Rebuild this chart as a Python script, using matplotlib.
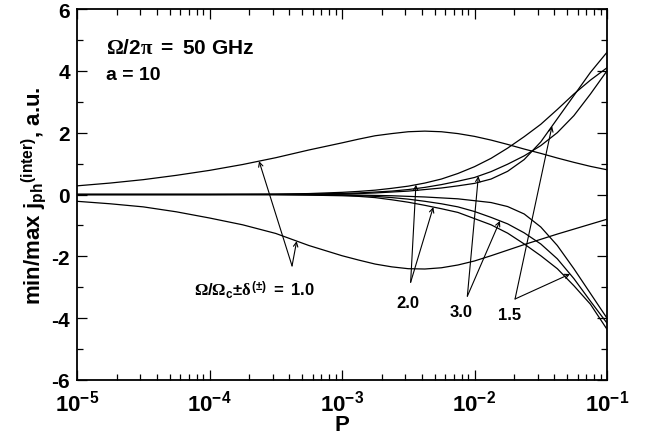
import numpy as np
import matplotlib
matplotlib.use("Agg")
import matplotlib.pyplot as plt
from matplotlib.ticker import FixedLocator, FixedFormatter, LogLocator, NullFormatter, MultipleLocator

plt.rcParams['font.family'] = ['Liberation Sans', 'DejaVu Sans']
plt.rcParams['font.weight'] = 'bold'
plt.rcParams['mathtext.fontset'] = 'custom'
plt.rcParams['mathtext.rm'] = 'Liberation Serif'
plt.rcParams['mathtext.it'] = 'Liberation Serif'
plt.rcParams['mathtext.bf'] = 'Liberation Sans:bold'
plt.rcParams['axes.unicode_minus'] = False

# log10(P) grid
logp = [-5, -4.75, -4.5, -4.25, -4, -3.75, -3.5, -3.25, -3, -2.875, -2.75, -2.625,
        -2.5, -2.375, -2.25, -2.125, -2, -1.875, -1.75, -1.625, -1.5, -1.375, -1.25, -1.125, -1]

# max / min of j_ph^(inter) for Omega/Omega_c +- delta = 1.0, 2.0, 3.0, 1.5
max_10 = [0.28, 0.37, 0.48, 0.62, 0.78, 0.97, 1.19, 1.44, 1.67, 1.79, 1.9, 1.97, 2.03, 2.05,
          2.03, 1.97, 1.88, 1.76, 1.62, 1.47, 1.33, 1.18, 1.04, 0.91, 0.8]
min_10 = [-0.22, -0.3, -0.4, -0.56, -0.76, -0.98, -1.26, -1.65, -1.98, -2.12, -2.25, -2.34,
          -2.4, -2.41, -2.37, -2.28, -2.15, -1.98, -1.8, -1.62, -1.45, -1.28, -1.12, -0.96, -0.8]
max_20 = [0, 0, 0, 0, 0, 0.005, 0.01, 0.03, 0.07, 0.1, 0.14, 0.2, 0.27, 0.37, 0.5, 0.68,
          0.9, 1.17, 1.5, 1.87, 2.27, 2.75, 3.25, 3.7, 4.1]
min_20 = [0, 0, 0, 0, 0, 0, -0.005, -0.02, -0.04, -0.06, -0.1, -0.17, -0.25, -0.35, -0.46,
          -0.58, -0.78, -0.98, -1.25, -1.6, -1.98, -2.4, -2.95, -3.55, -4.36]
max_30 = [0, 0, 0, 0, 0, 0, 0.005, 0.015, 0.035, 0.05, 0.08, 0.11, 0.16, 0.23, 0.32, 0.43,
          0.55, 0.74, 0.98, 1.25, 1.58, 2.0, 2.55, 3.25, 4.0]
min_30 = [0, 0, 0, 0, 0, 0, 0, -0.01, -0.02, -0.04, -0.06, -0.1, -0.15, -0.22, -0.3, -0.4,
          -0.55, -0.74, -0.95, -1.24, -1.6, -2.08, -2.72, -3.45, -4.16]
max_15 = [0, 0, 0, 0, 0, 0, 0, 0.005, 0.015, 0.03, 0.05, 0.08, 0.11, 0.16, 0.21, 0.28,
          0.36, 0.5, 0.75, 1.13, 1.7, 2.45, 3.2, 3.95, 4.6]
min_15 = [0, 0, 0, 0, 0, 0, 0, 0, -0.01, -0.02, -0.03, -0.04, -0.06, -0.08, -0.11, -0.14,
          -0.2, -0.26, -0.39, -0.63, -1.05, -1.65, -2.4, -3.2, -4.0]

curves = [max_10, min_10, max_20, min_20, max_30, min_30, max_15, min_15]

x_ticks = [1e-5, 1e-4, 1e-3, 1e-2, 1e-1]
x_ticklabels = [r'$\mathbf{10^{-5}}$', r'$\mathbf{10^{-4}}$', r'$\mathbf{10^{-3}}$',
                r'$\mathbf{10^{-2}}$', r'$\mathbf{10^{-1}}$']
y_ticks = [-6, -4, -2, 0, 2, 4, 6]
y_ticklabels = ['-6', '-4', '-2', '0', '2', '4', '6']

# annotation labels: text, text position, arrow tail, arrow tips (P, curve)
labels = [
    (r'$\Omega\mathbf{/}\Omega_{\mathbf{c}}\mathbf{\pm}\delta^{\mathbf{(\pm)}}\mathbf{\ =\ 1.0}$',
     (10**-4.117, -3.25), (10**-3.377, -2.31), [(10**-3.626, max_10), (10**-3.342, min_10)]),
    ('2.0', (10**-2.592, -3.65), (10**-2.482, -2.84), [(10**-2.442, max_20), (10**-2.311, min_20)]),
    ('3.0', (10**-2.185, -3.94), (10**-2.054, -3.29), [(10**-1.971, max_30), (10**-1.808, min_30)]),
    ('1.5', (10**-1.823, -4.03), (10**-1.694, -3.38), [(10**-1.415, max_15), (10**-1.279, min_30)]),
]

P = 10.0 ** np.array(logp)

fig = plt.figure(figsize=(6.52, 4.39), dpi=100)
ax = fig.add_axes([77 / 652, 1 - 381 / 439, 530 / 652, 371 / 439])

for c in curves:
    ax.plot(P, c, color='black', lw=0.9)

for text, tpos, tail, tips in labels:
    ax.text(tpos[0], tpos[1], text, fontsize=12, fontweight='bold', ha='left', va='baseline')
    for px, curve in tips:
        py = np.interp(np.log10(px), logp, curve)
        ax.annotate('', xy=(px, py), xytext=tail,
                    arrowprops=dict(arrowstyle='->', lw=0.8, color='black',
                                    shrinkA=0, shrinkB=0, mutation_scale=8))

ax.text(0.055, 0.881, r'$\Omega\mathbf{/2}\pi\mathbf{\ =\ 50\ GHz}$', transform=ax.transAxes,
        fontsize=15, va='baseline')
ax.text(0.055, 0.811, 'a = 10', transform=ax.transAxes, fontsize=14, fontweight='bold',
        va='baseline')

ax.set_xscale('log')
ax.set_xlim(1e-5, 1e-1)
ax.set_ylim(-6, 6)
ax.xaxis.set_major_locator(FixedLocator(x_ticks))
ax.xaxis.set_major_formatter(FixedFormatter(x_ticklabels))
ax.xaxis.set_minor_locator(LogLocator(base=10, subs=np.arange(2, 10)))
ax.xaxis.set_minor_formatter(NullFormatter())
ax.yaxis.set_major_locator(FixedLocator(y_ticks))
ax.yaxis.set_major_formatter(FixedFormatter(y_ticklabels))
ax.yaxis.set_minor_locator(MultipleLocator(1))

ax.tick_params(which='both', direction='in', top=True, right=True, width=0.9)
ax.tick_params(which='major', length=7)
ax.tick_params(which='minor', length=4)
ax.tick_params(axis='x', labelsize=16, pad=7)
ax.tick_params(axis='y', labelsize=15, pad=5)
for lbl in ax.get_yticklabels():
    lbl.set_fontweight('bold')
for s in ax.spines.values():
    s.set_linewidth(1.3)

ax.set_xlabel('P', fontsize=16, fontweight='bold', labelpad=-1)
ax.set_ylabel(r'min/max $\mathbf{j_{ph}}^{\mathbf{(inter)}}$, a.u.', fontsize=16,
              fontweight='bold', labelpad=2)

fig.savefig('out.png', dpi=100)
